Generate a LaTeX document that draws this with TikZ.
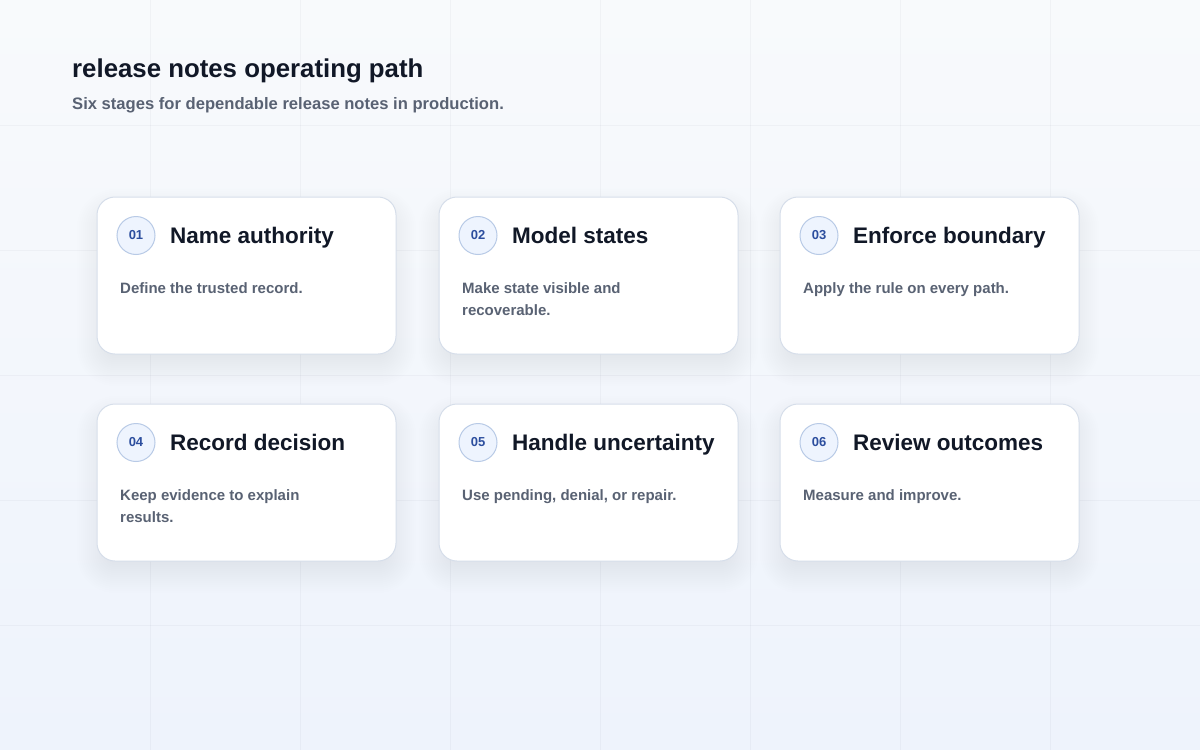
\documentclass[tikz,border=0pt]{standalone}
\usepackage{fontspec}
\setmainfont{Liberation Sans}
\usetikzlibrary{calc}
\definecolor{bgtop}{HTML}{F8FAFC}
\definecolor{bgbot}{HTML}{EEF3FC}
\definecolor{cardline}{HTML}{D6DEEA}
\definecolor{shadowcol}{HTML}{1E2A4A}
\definecolor{circline}{HTML}{B8CAE6}
\definecolor{circfill}{HTML}{EEF4FE}
\definecolor{numcol}{HTML}{2C4E9E}
\definecolor{titlecol}{HTML}{111827}
\definecolor{desccol}{HTML}{596273}
\tikzset{
  card/.style={draw=cardline, line width=1pt, fill=white, rounded corners=18pt,
    minimum width=299pt, minimum height=157pt, inner sep=0pt},
  numcirc/.style={circle, draw=circline, line width=1pt, fill=circfill,
    minimum size=38pt, inner sep=0pt, font=\bfseries\fontsize{13}{15}\selectfont, text=numcol},
  cardtitle/.style={anchor=base west, inner sep=0pt,
    font=\bfseries\fontsize{22.5}{26}\selectfont, text=titlecol},
  carddesc/.style={anchor=base west, inner sep=0pt,
    font=\bfseries\fontsize{15}{22}\selectfont, text=desccol},
  pagetitle/.style={anchor=base west, inner sep=0pt,
    font=\bfseries\fontsize{25.8}{30}\selectfont, text=titlecol},
  pagesub/.style={anchor=base west, inner sep=0pt,
    font=\bfseries\fontsize{16.6}{20}\selectfont, text=desccol},
  gridline/.style={draw=shadowcol, draw opacity=0.035, line width=1pt}
}
\newcommand\stagecard[6]{%
  \foreach \k in {-14,-12,...,20}{%
    \pgfmathsetmacro\rr{max(4,18+\k)}%
    \fill[shadowcol, opacity=0.005, rounded corners=\rr pt]
      (#2-149.5-\k, #3-78.5+12-\k) rectangle (#2+149.5+\k, #3+78.5+12+\k);
  }
  \node[card] (#1) at (#2,#3) {};
  \node[numcirc] (#1n) at ($(#1.north west)+(39.5,39)$) {#4};
  \node[cardtitle] (#1t) at ($(#1.north west)+(73.5,47)$) {#5};
  \node[carddesc] (#1d) at ($(#1.north west)+(23.5,97)$)
    {\parbox[t]{260pt}{\raggedright #6}};
}
\begin{document}
\begin{tikzpicture}[x=1pt,y=-1pt]
  \useasboundingbox (0,0) rectangle (1200,750);
  \shade[top color=bgtop, bottom color=bgbot] (0,0) rectangle (1200,750);
  \foreach \gx in {150,300,...,1050} \draw[gridline] (\gx,0) -- (\gx,750);
  \foreach \gy in {125,250,...,625} \draw[gridline] (0,\gy) -- (1200,\gy);

  \node[pagetitle] (title) at (72,77) {release notes operating path};
  \node[pagesub] (subtitle) at (72,109) {Six stages for dependable release notes in production.};

  \stagecard{c1}{246.5}{275.5}{01}{Name authority}{Define the trusted record.}
  \stagecard{c2}{588.5}{275.5}{02}{Model states}{Make state visible and\\recoverable.}
  \stagecard{c3}{929.5}{275.5}{03}{Enforce boundary}{Apply the rule on every path.}
  \stagecard{c4}{246.5}{482.5}{04}{Record decision}{Keep evidence to explain\\results.}
  \stagecard{c5}{588.5}{482.5}{05}{Handle uncertainty}{Use pending, denial, or repair.}
  \stagecard{c6}{929.5}{482.5}{06}{Review outcomes}{Measure and improve.}
\end{tikzpicture}
\end{document}
